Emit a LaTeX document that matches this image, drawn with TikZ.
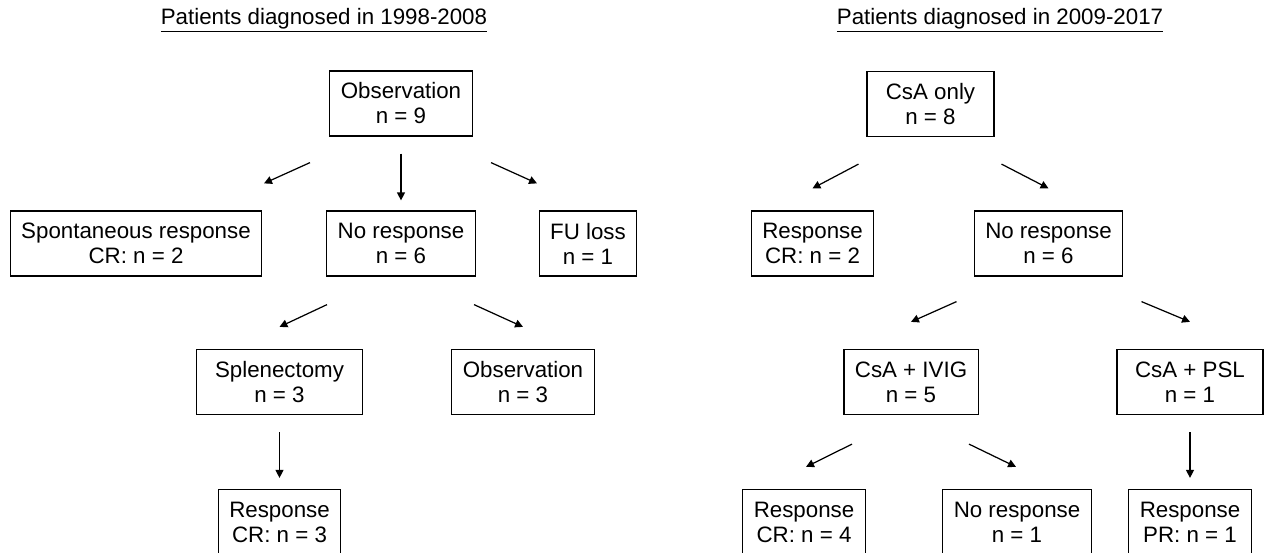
\documentclass[tikz,border=0pt]{standalone}
\usepackage{fontspec}
\setmainfont{Liberation Sans}
\usetikzlibrary{arrows.meta,calc}

\tikzset{
  stagebox/.style={draw, line width=0.7pt, align=center, minimum height=1.3cm,
    inner xsep=0.22cm, font=\fontsize{12.7}{14.2}\selectfont},
  arrowline/.style={line width=0.7pt, -{Triangle[length=4.5pt,width=4.5pt]}},
  heading/.style={font=\fontsize{12.7}{14.2}\selectfont}
}

\begin{document}
\begin{tikzpicture}[x=0.02cm, y=-0.02cm]
% One unit = one pixel of the original figure
\useasboundingbox (0,0) rectangle (1267,553);

% Headings
\node[heading] (headA) at (324,20) {\underline{Patients diagnosed in 1998-2008}};
\node[heading] (headB) at (1000,20) {\underline{Patients diagnosed in 2009-2017}};

% Patients diagnosed in 1998-2008
\node[stagebox] (obsA)   at (401,103.5) {Observation\\n = 9};
\node[stagebox] (spont)  at (136,243.5) {Spontaneous response\\CR: n = 2};
\node[stagebox] (noresA) at (401,243.5) {No response\\n = 6};
\node[stagebox] (fuloss) at (588,243.5) {FU loss\\n = 1};
\node[stagebox, minimum width=3.32cm] (splen) at (279.5,382) {Splenectomy\\n = 3};
\node[stagebox] (obsB)   at (523,382)   {Observation\\n = 3};
\node[stagebox] (respA)  at (279.5,522) {Response\\CR: n = 3};

% Patients diagnosed in 2009-2017
\node[stagebox, minimum width=2.54cm] (csa) at (930.5,104) {CsA only\\n = 8};
\node[stagebox] (respB)  at (812.5,243.5)  {Response\\CR: n = 2};
\node[stagebox] (noresB) at (1048.5,243.5) {No response\\n = 6};
\node[stagebox] (ivig)   at (911,382)      {CsA + IVIG\\n = 5};
\node[stagebox, minimum width=2.92cm] (psl) at (1190,382) {CsA + PSL\\n = 1};
\node[stagebox] (respC)  at (804,522)      {Response\\CR: n = 4};
\node[stagebox] (noresC) at (1017,522)     {No response\\n = 1};
\node[stagebox] (respD)  at (1190,522)     {Response\\PR: n = 1};

% Arrows, left tree
\draw[arrowline] ($(obsA.south)+(-91,26)$) -- ($(spont.north)+(128,-27)$);
\draw[arrowline, shorten <=0.34cm, shorten >=0.2cm] (obsA) -- (noresA);
\draw[arrowline] ($(obsA.south)+(90,26)$) -- ($(fuloss.north)+(-51,-27)$);
\draw[arrowline] ($(noresA.south)+(-74,28)$) -- ($(splen.north)+(0,-22)$);
\draw[arrowline] ($(noresA.south)+(73,28)$) -- ($(obsB.north)+(0,-22)$);
\draw[arrowline, shorten <=0.34cm, shorten >=0.22cm] (splen) -- (respA);

% Arrows, right tree
\draw[arrowline] ($(csa.south)+(-72,27)$) -- ($(respB.north)+(0,-22)$);
\draw[arrowline] ($(csa.south)+(71,27)$) -- ($(noresB.north)+(0,-22)$);
\draw[arrowline] ($(noresB.south)+(-92,25)$) -- ($(ivig.north)+(0,-27)$);
\draw[arrowline] ($(noresB.south)+(93,25)$) -- ($(psl.north)+(0,-27)$);
\draw[arrowline] ($(ivig.south)+(-59,29)$) -- ($(respC.north)+(2,-22)$);
\draw[arrowline] ($(ivig.south)+(58,29)$) -- ($(noresC.north)+(-1,-22)$);
\draw[arrowline, shorten <=0.34cm, shorten >=0.22cm] (psl) -- (respD);

\end{tikzpicture}
\end{document}
